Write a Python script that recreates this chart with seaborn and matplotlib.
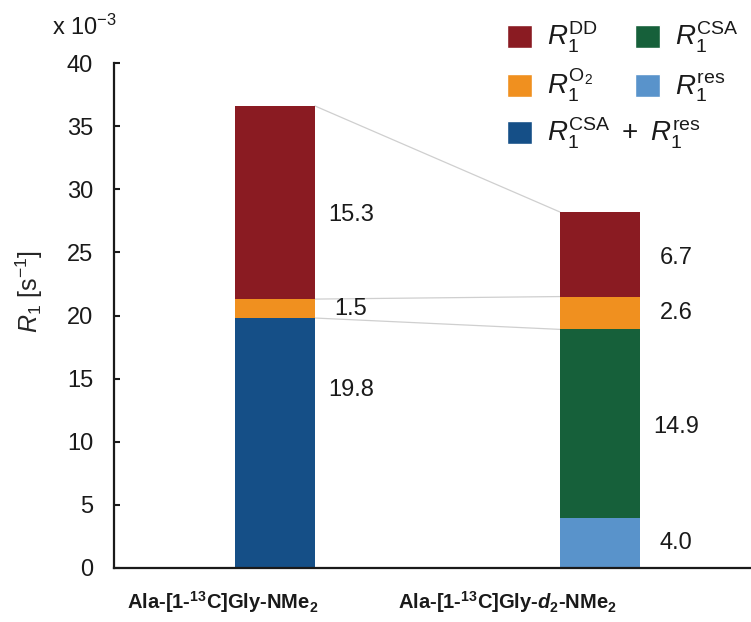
import numpy as np
import pandas as pd
import matplotlib
matplotlib.use("Agg")
import matplotlib.pyplot as plt
from matplotlib import font_manager
from matplotlib.patches import Patch
from matplotlib.transforms import blended_transform_factory
import seaborn as sns

# ---- data (x 10^-3 s^-1) ----
compounds = ["Ala-Gly-NMe2", "Ala-Gly-d2-NMe2"]
compound_labels = [
    r"Ala-[1-$^{\mathbf{13}}$C]Gly-NMe$_{\mathbf{2}}$",
    r"Ala-[1-$^{\mathbf{13}}$C]Gly-$\mathbfit{d}_{\mathbf{2}}$-NMe$_{\mathbf{2}}$",
]
# stacking order, bottom to top
components = ["CSA+res", "res", "CSA", "O2", "DD"]
r1_csa_res = [19.8, 0.0]
r1_res = [0.0, 4.0]
r1_csa = [0.0, 14.9]
r1_o2 = [1.5, 2.6]
r1_dd = [15.3, 6.7]

legend_text = {
    "DD": r"$R_1^{\mathrm{DD}}$",
    "O2": r"$R_1^{\mathrm{O_2}}$",
    "CSA+res": r"$R_1^{\mathrm{CSA}}\ +\ R_1^{\mathrm{res}}$",
    "CSA": r"$R_1^{\mathrm{CSA}}$",
    "res": r"$R_1^{\mathrm{res}}$",
}

# ---- style ----
palette = {
    "DD": "#8a1b22",
    "CSA": "#16603a",
    "O2": "#f0901f",
    "res": "#5993cb",
    "CSA+res": "#154f87",
}
sns.set_theme(style="white")
plt.rcParams["font.family"] = ["Liberation Sans", "DejaVu Sans"]
plt.rcParams["mathtext.fontset"] = "custom"
plt.rcParams["mathtext.rm"] = "Liberation Sans"
plt.rcParams["mathtext.it"] = "Liberation Sans:italic"
plt.rcParams["mathtext.bf"] = "Liberation Sans:bold"
plt.rcParams["mathtext.bfit"] = "Liberation Sans:italic:bold"
plt.rcParams["mathtext.sf"] = "Liberation Sans"
plt.rcParams["text.color"] = "#1a1a1a"

available = {f.name for f in font_manager.fontManager.ttflist}
if "Liberation Sans Narrow" in available:
    cat_family, cat_size = "Liberation Sans Narrow", 16
else:
    cat_family, cat_size = "Liberation Sans", 14.5

# ---- long table with stack bases ----
series = {
    "CSA+res": r1_csa_res,
    "res": r1_res,
    "CSA": r1_csa,
    "O2": r1_o2,
    "DD": r1_dd,
}
rows = []
for ci, comp_name in enumerate(compounds):
    base = 0.0
    for part in components:
        v = series[part][ci]
        if v > 0:
            rows.append(dict(compound=comp_name, idx=ci, component=part,
                             value=v, base=base))
        base += v
df = pd.DataFrame(rows)

bar_w = 0.246

fig = plt.figure(figsize=(7.51, 6.22), dpi=100)
ax = fig.add_axes([114 / 751, 1 - 568 / 622, 1 - 114 / 751, (568 - 63) / 622])

for part in components:
    sub = df[df["component"] == part]
    sns.barplot(data=sub, x="compound", y="value", order=compounds,
                bottom=sub["base"].to_numpy(), color=palette[part],
                saturation=1, width=bar_w, errorbar=None,
                linewidth=0, edgecolor="none", ax=ax, zorder=2)

# connectors between matching stack boundaries
tops = {}
for ci in range(len(compounds)):
    s = df[df["idx"] == ci]
    o2 = s[s["component"] == "O2"]
    tops[ci] = {
        "total": float((s["base"] + s["value"]).max()),
        "o2_top": float((o2["base"] + o2["value"]).iloc[0]),
        "o2_base": float(o2["base"].iloc[0]),
    }
for key in ["total", "o2_top", "o2_base"]:
    ax.plot([0 + bar_w / 2, 1 - bar_w / 2], [tops[0][key], tops[1][key]],
            color="#cfcfcf", lw=0.9, zorder=1)

# value labels beside each segment
label_nudge = {("CSA+res", 0): 4.2, ("DD", 0): -1.0, ("DD", 1): -0.3,
               ("CSA", 1): -0.25}
for _, r in df.iterrows():
    y = r["base"] + r["value"] / 2 + label_nudge.get((r["component"], r["idx"]), 0)
    ax.annotate(f"{r['value']:.1f}", xy=(r["idx"] + bar_w / 2, y),
                xytext=(26, 0), textcoords="offset points",
                ha="center", va="center", fontsize=17)

# axes
ax.set_xlim(-0.495, 1.465)
ax.set_ylim(0, 40)
ax.set_yticks(np.arange(0, 41, 5))
ax.tick_params(axis="y", direction="in", length=4, width=1.5,
               labelsize=17, pad=15, left=True, colors="#1a1a1a")
ax.tick_params(axis="x", length=0, labelbottom=False)
ax.set_xlabel("")
for side in ["top", "right"]:
    ax.spines[side].set_visible(False)
for side in ["left", "bottom"]:
    ax.spines[side].set_linewidth(1.6)
    ax.spines[side].set_color("#1a1a1a")

ax.set_ylabel(r"$R_1$ [s$^{-1}$]", fontsize=18)
ax.yaxis.set_label_coords(-0.108, 0.548)

# category labels under the bars
cat_shift = [-0.162, -0.285]
trans = blended_transform_factory(ax.transData, ax.transAxes)
for i, lab in enumerate(compound_labels):
    ax.text(i + cat_shift[i], -0.067, lab, transform=trans, ha="center",
            va="center", fontsize=cat_size, fontweight="bold",
            family=cat_family)

fig.text(52 / 751, 1 - 27 / 622, r"x 10$^{-3}$", fontsize=17,
         ha="left", va="center")

# legend in two separate columns
col1 = ["DD", "O2", "CSA+res"]
col2 = ["CSA", "res"]
leg_kw = dict(frameon=False, fontsize=20, handlelength=0.9,
              handleheight=0.9, handletextpad=0.55,
              borderpad=0, borderaxespad=0, loc="upper left")
leg1 = fig.legend([Patch(facecolor=palette[k]) for k in col1],
                  [legend_text[k] for k in col1], labelspacing=0.42,
                  bbox_to_anchor=(507 / 751, 1 - 20 / 622), **leg_kw)
leg2 = fig.legend([Patch(facecolor=palette[k]) for k in col2],
                  [legend_text[k] for k in col2], labelspacing=0.6,
                  bbox_to_anchor=(635 / 751, 1 - 20 / 622), **leg_kw)

fig.savefig("out.png", dpi=100)
